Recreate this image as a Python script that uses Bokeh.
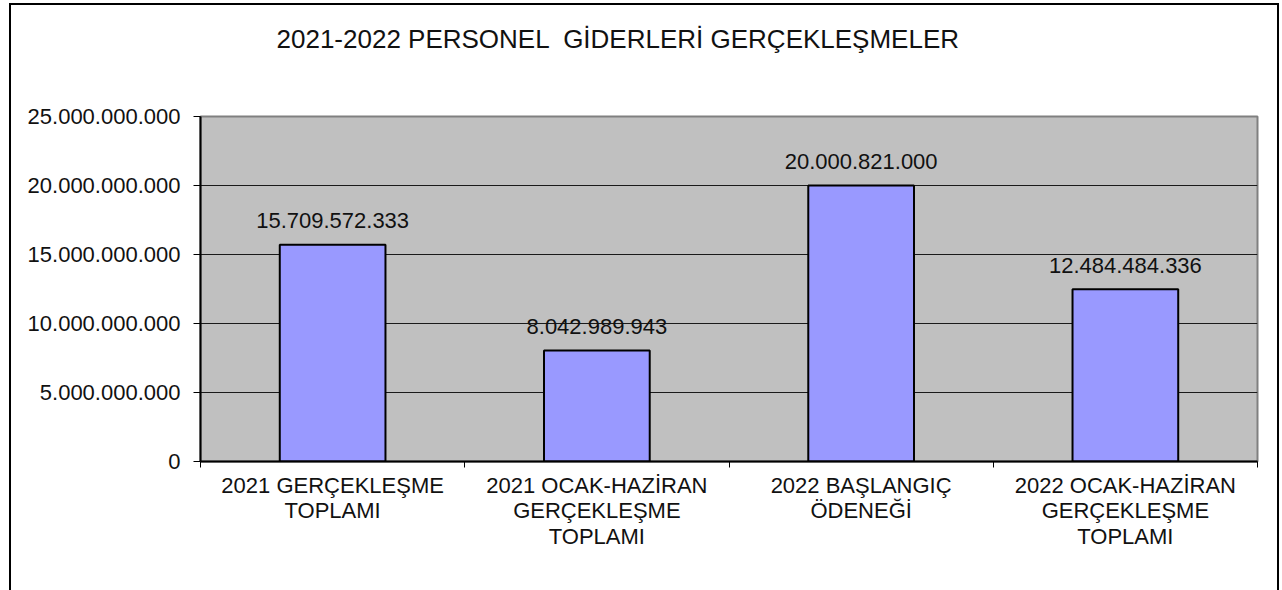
from bokeh.plotting import figure
from bokeh.models import FixedTicker, Range1d, ColumnDataSource
from bokeh.embed import file_html
from bokeh.resources import INLINE
from bokeh.core.properties import value

title_text = "2021-2022 PERSONEL \u00a0GİDERLERİ GERÇEKLEŞMELER"
categories = [
    "2021 GERÇEKLEŞME\nTOPLAMI",
    "2021 OCAK-HAZİRAN\nGERÇEKLEŞME\nTOPLAMI",
    "2022 BAŞLANGIÇ\nÖDENEĞİ",
    "2022 OCAK-HAZİRAN\nGERÇEKLEŞME\nTOPLAMI",
]
values = [15709572333, 8042989943, 20000821000, 12484484336]
y_ticks = [0, 5000000000, 10000000000, 15000000000, 20000000000, 25000000000]


def fmt(v):
    return f"{int(v):,}".replace(",", ".")


FONT = "Liberation Sans"
TXT = "#111111"

xs = [i + 0.5 for i in range(len(categories))]
src = ColumnDataSource(dict(x=xs, top=values, label=[fmt(v) for v in values]))

p = figure(
    width=1270, height=587,
    x_range=Range1d(0, len(categories)), y_range=Range1d(0, y_ticks[-1]),
    output_backend="svg", toolbar_location=None,
    min_border_left=191, min_border_right=22,
    min_border_top=113, min_border_bottom=129,
)
p.styles = {"margin": "3px 0px 0px 9px",
            "box-shadow": "inset 2px 2px 0 #000000, inset -2px 0 0 #000000"}
p.border_fill_color = None
p.background_fill_color = "#c0c0c0"
p.outline_line_color = "#808080"
p.outline_line_width = 2

# title followed by two blank lines, which keep it high above the plot area
p.title.text = title_text + "\n\u00a0\n\u00a0"
p.title.text_font = FONT
p.title.text_font_size = "26px"
p.title.text_font_style = "normal"
p.title.text_color = TXT
p.title.text_line_height = 1.0
p.title.align = "left"
p.title.vertical_align = "top"
p.title.offset = 76
p.title.standoff = 2

p.vbar(x="x", top="top", width=0.4, bottom=0, source=src,
       fill_color="#9999ff", line_color="#000000", line_width=2)
p.text(x="x", y="top", text="label", source=src,
       text_font=value(FONT), text_font_size="22px", text_color=TXT,
       text_align="center", text_baseline="alphabetic", y_offset=-24)

# y axis
yax = p.yaxis[0]
yax.ticker = FixedTicker(ticks=y_ticks, minor_ticks=[])
yax.major_label_overrides = {t: fmt(t) for t in y_ticks}
yax.major_label_text_font = FONT
yax.major_label_text_font_size = "22px"
yax.major_label_text_color = TXT
yax.major_tick_out = 7
yax.major_tick_in = 0
yax.major_tick_line_color = "#000000"
yax.major_tick_line_width = 1
yax.minor_tick_line_color = None
yax.axis_line_color = "#000000"
yax.axis_line_width = 2
yax.major_label_standoff = 13

# x axis
xax = p.xaxis[0]
xax.ticker = FixedTicker(ticks=xs, minor_ticks=[float(i) for i in range(len(categories) + 1)])
xax.major_label_overrides = {x: c for x, c in zip(xs, categories)}
xax.major_label_text_font = FONT
xax.major_label_text_font_size = "22px"
xax.major_label_text_line_height = 1.02
xax.major_label_text_color = TXT
xax.major_tick_line_color = None
xax.major_tick_out = 6
xax.major_tick_in = 0
xax.minor_tick_line_color = "#000000"
xax.minor_tick_out = 6
xax.minor_tick_in = 0
xax.axis_line_color = "#000000"
xax.axis_line_width = 2
xax.major_label_standoff = 5

p.xgrid.grid_line_color = None
p.ygrid.ticker = FixedTicker(ticks=y_ticks[1:-1])
p.ygrid.grid_line_color = "#1a1a1a"
p.ygrid.grid_line_width = 1

open("out.html", "w").write(file_html(p, INLINE))
